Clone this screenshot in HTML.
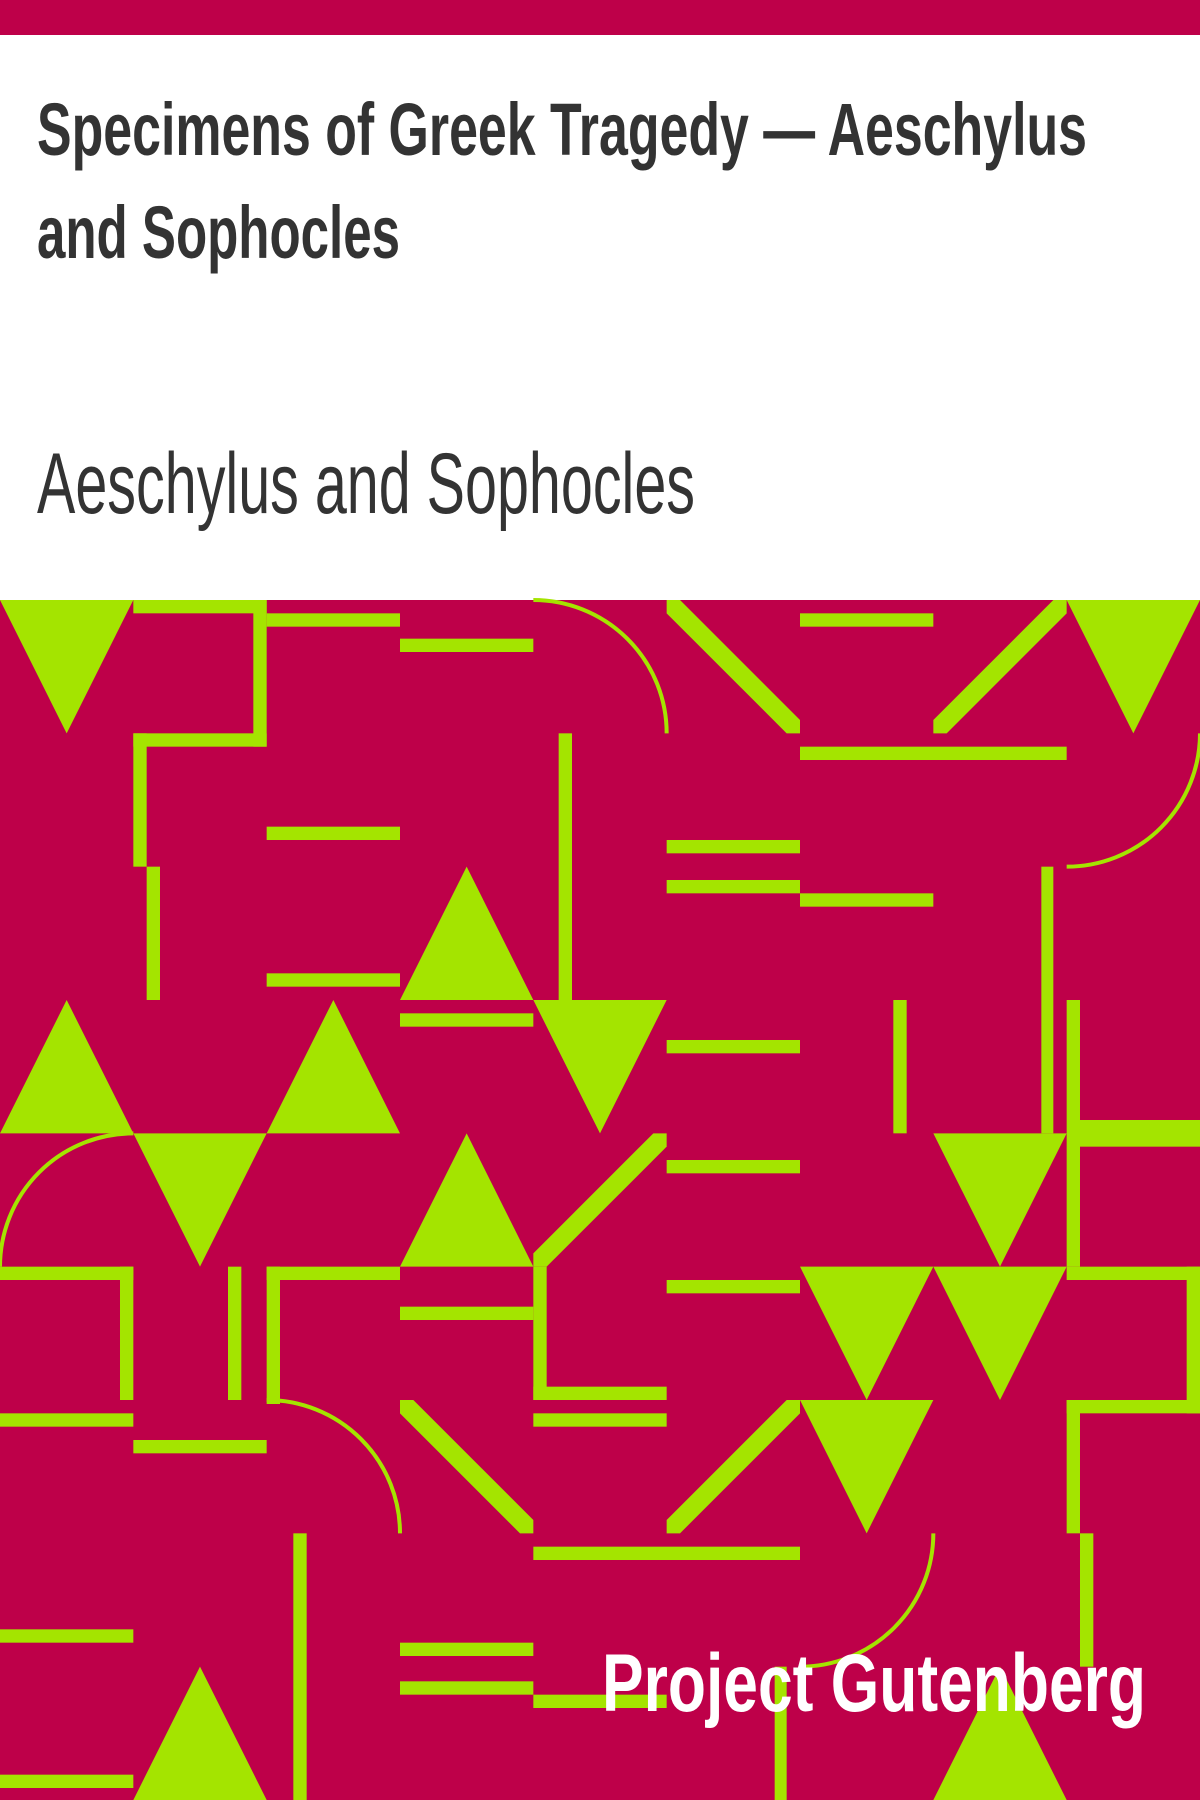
<!DOCTYPE html>
<html>
<head>
<meta charset="utf-8">
<style>
  html,body{margin:0;padding:0;background:#fff;}
  body{width:1200px;height:1800px;overflow:hidden;}
  svg{display:block;}
</style>
</head>
<body>
<svg id="cover" width="1200" height="1800" viewBox="0 0 1200 1800" xmlns="http://www.w3.org/2000/svg">
  <rect x="0" y="0" width="1200" height="35" fill="#be0049"/>
  <text x="37" y="155" font-family="'Liberation Sans Narrow','Liberation Sans',sans-serif" font-weight="bold" font-size="74" fill="#333" textLength="1050" lengthAdjust="spacingAndGlyphs">Specimens of Greek Tragedy — Aeschylus</text>
  <text x="37" y="258" font-family="'Liberation Sans Narrow','Liberation Sans',sans-serif" font-weight="bold" font-size="74" fill="#333" textLength="363" lengthAdjust="spacingAndGlyphs">and Sophocles</text>
  <text x="37" y="513" font-family="'Liberation Sans Narrow','Liberation Sans',sans-serif" font-size="86" fill="#333" textLength="658" lengthAdjust="spacingAndGlyphs">Aeschylus and Sophocles</text>
  <rect x="0" y="600" width="1200" height="1200" fill="#be0049"/>
  <g id="pattern" transform="translate(0,600) scale(133.3333)"></g>
  <text x="602" y="1711" font-family="'Liberation Sans Narrow','Liberation Sans',sans-serif" font-weight="bold" font-size="82" fill="#fff" textLength="544" lengthAdjust="spacingAndGlyphs">Project Gutenberg</text>
</svg>
<script>
// shapes in tile units (x, y, w, h)
const rects = [
  [1,0,1,0.1],[1.9,0,0.1,1.1],[1,1,1,0.1],[1,1,0.1,1],[1.1,2,0.1,1],
  [2,0.1,1,0.1],[3,0.29,1,0.1],[2,1.7,1,0.1],[2,2.8,1,0.1],[3,3.1,1,0.1],
  [4.19,1,0.1,2],[6,0.1,1,0.1],[6,1.1,2,0.1],[5,1.8,1,0.1],[5,2.1,1,0.1],
  [6,2.2,1,0.1],[7.81,2,0.09,2],[5,3.3,1,0.1],[6.7,3,0.1,1],[8,3,0.1,2],
  [8.1,3.9,0.9,0.2],[5,4.2,1,0.1],
  [0,5,1,0.1],[0.9,5,0.1,1],[0,6.1,1,0.1],[1.71,5,0.1,1],[2,5,0.1,1.03],[2,5,1,0.1],
  [1,6.3,1,0.1],[3,5.3,1,0.1],[4,5,0.1,1],[4,5.9,1,0.1],[4,6.1,1,0.1],
  [4,7.1,2,0.1],[0,7.72,1,0.1],[2.2,7,0.1,2],[0,8.81,1,0.1],
  [3,7.82,1,0.1],[3,8.11,1,0.1],[4,8.21,1,0.1],[5.81,8.0,0.09,1],
  [8,5,1,0.1],[8.9,5,0.1,1.1],[8,6,1,0.1],[8,6,0.1,1],[8.1,7,0.1,1],[5,5.1,1,0.1]
];
const downTriangles = [[0,0],[8,0],[4,3],[1,4],[7,4],[6,5],[7,5],[6,6]];
const upTriangles = [[3,2],[0,3],[2,3],[3,4],[1,8],[7,8]];
// diagonals: [col,row,dir] dir 1 = top-left to bottom-right, -1 = bottom-left to top-right
const diagonals = [[5,0,1],[7,0,-1],[4,4,-1],[3,6,1],[5,6,-1]];
// arcs: [startX,startY,endX,endY,sweep]
const arcs = [[4,0,5,1,1],[9,1,8,2,1],[1,4,0,5,0],[2,6,3,7,1],[7,7,6,8,1]];

const NS = 'http://www.w3.org/2000/svg';
const g = document.getElementById('pattern');
const GREEN = '#a4e400';
const d = 0.1;

rects.forEach(r => {
  const el = document.createElementNS(NS, 'rect');
  el.setAttribute('x', r[0]); el.setAttribute('y', r[1]);
  el.setAttribute('width', r[2]); el.setAttribute('height', r[3]);
  el.setAttribute('fill', GREEN);
  
  
  g.appendChild(el);
});
downTriangles.forEach(t => {
  const [c, r] = t;
  const el = document.createElementNS(NS, 'polygon');
  el.setAttribute('points', `${c},${r} ${c+1},${r} ${c+0.5},${r+1}`);
  el.setAttribute('fill', GREEN);
  
  
  g.appendChild(el);
});
upTriangles.forEach(t => {
  const [c, r] = t;
  const el = document.createElementNS(NS, 'polygon');
  el.setAttribute('points', `${c},${r+1} ${c+1},${r+1} ${c+0.5},${r}`);
  el.setAttribute('fill', GREEN);
  
  
  g.appendChild(el);
});
diagonals.forEach(t => {
  const [c, r, dir] = t;
  let pts;
  if (dir === 1) {
    pts = [[c,r],[c+d,r],[c+1,r+1-d],[c+1,r+1],[c+1-d,r+1],[c,r+d]];
  } else {
    pts = [[c+1-d,r],[c+1,r],[c+1,r+d],[c+d,r+1],[c,r+1],[c,r+1-d]];
  }
  const el = document.createElementNS(NS, 'polygon');
  el.setAttribute('points', pts.map(p => p.join(',')).join(' '));
  el.setAttribute('fill', GREEN);
  
  
  g.appendChild(el);
});
arcs.forEach(a => {
  const el = document.createElementNS(NS, 'path');
  el.setAttribute('d', `M${a[0]},${a[1]} A1,1 0 0 ${a[4]} ${a[2]},${a[3]}`);
  el.setAttribute('fill', 'none');
  el.setAttribute('stroke', GREEN);
  el.setAttribute('stroke-width', '0.03');
  
  
  g.appendChild(el);
});
</script>
</body>
</html>
